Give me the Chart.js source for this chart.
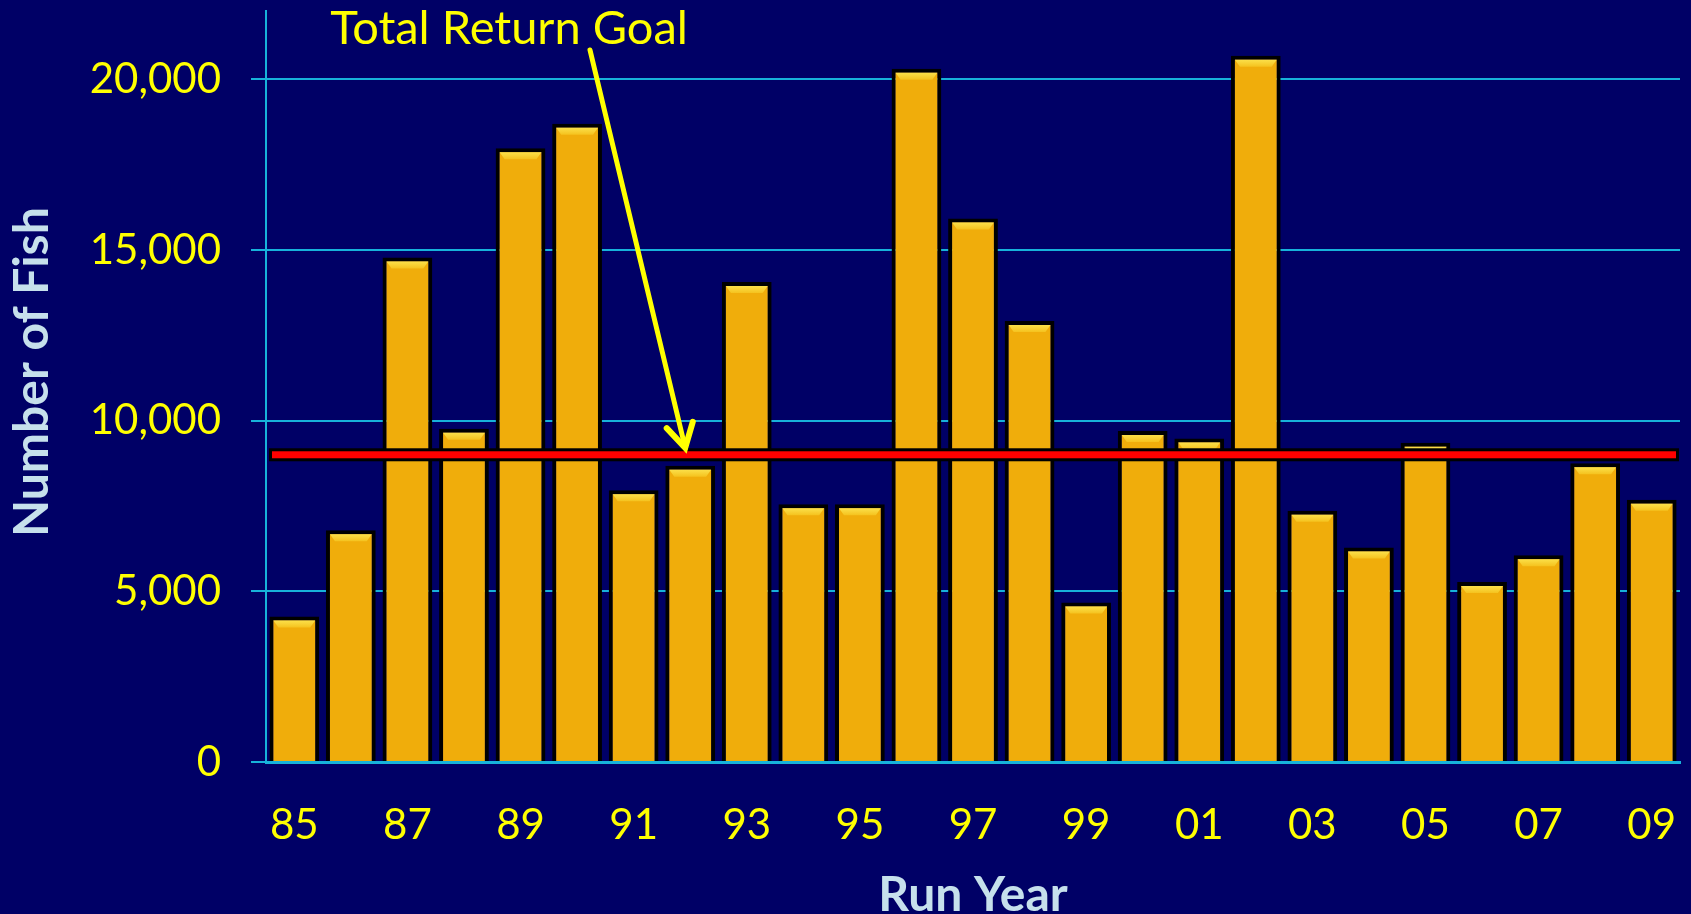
<!DOCTYPE html>
<html>
<head>
<meta charset="utf-8">
<script src="https://cdn.jsdelivr.net/npm/chart.js@4"></script>
<style>
  html, body { margin: 0; padding: 0; background: #000066; }
  #wrap { width: 1691px; height: 914px; }
</style>
</head>
<body>
<div id="wrap"><canvas id="fishChart" width="1691" height="914"></canvas></div>
<script>
// Run years (two-digit labels) and fish returns
const runYears = ['85', '86', '87', '88', '89', '90', '91', '92', '93', '94', '95', '96', '97',
                  '98', '99', '00', '01', '02', '03', '04', '05', '06', '07', '08', '09'];
const fishCounts = [4260, 6790, 14780, 9760, 17980, 18700, 7960, 8680, 14060, 7550, 7550, 20310, 15920,
                    12920, 4670, 9700, 9480, 20690, 7360, 6280, 9350, 5270, 6060, 8750, 7680];
const returnGoal = 9000;
const yTickValues = [0, 5000, 10000, 15000, 20000];
const yMax = 22000;

const navy = '#000066';
const gridCyan = '#17b2da';
const labelYellow = '#ffff00';
const titleBlue = '#c6e0ec';
const barGold = '#f0ad0b';

// dark background for the whole canvas
const background = {
  id: 'background',
  beforeDraw(chart) {
    const { ctx, width, height } = chart;
    ctx.save();
    ctx.fillStyle = navy;
    ctx.fillRect(0, 0, width, height);
    ctx.restore();
  }
};

// lighter bevel strip along the top of each bar
const barBevel = {
  id: 'barBevel',
  afterDatasetsDraw(chart) {
    const { ctx } = chart;
    const meta = chart.getDatasetMeta(0);
    ctx.save();
    meta.data.forEach(bar => {
      const b = 4;
      const left = bar.x - bar.width / 2 + b;
      const right = bar.x + bar.width / 2 - b;
      const top = bar.y + b;
      const h = 7;
      const grad = ctx.createLinearGradient(0, top, 0, top + h);
      grad.addColorStop(0, '#fbe04a');
      grad.addColorStop(1, '#f5c21e');
      ctx.fillStyle = grad;
      ctx.beginPath();
      ctx.moveTo(left, top);
      ctx.lineTo(right, top);
      ctx.lineTo(right - 5, top + h);
      ctx.lineTo(left + 5, top + h);
      ctx.closePath();
      ctx.fill();
    });
    ctx.restore();
  }
};

// goal line, arrow, annotation and axis titles
const goalMarker = {
  id: 'goalMarker',
  afterDraw(chart) {
    const { ctx, chartArea } = chart;
    const y = chart.scales.y.getPixelForValue(returnGoal);
    const x1 = chartArea.left + 3;
    const x2 = chartArea.right - 1;
    ctx.save();
    ctx.fillStyle = '#000000';
    ctx.fillRect(x1, y - 6.5, x2 - x1, 13);
    ctx.fillStyle = '#ff0000';
    ctx.fillRect(x1 + 3, y - 3.5, x2 - x1 - 6, 7);

    // arrow pointing at the goal line
    const tipX = chart.scales.x.getPixelForValue(7) - 5;
    const tipY = y - 7;
    const startX = 590, startY = 50;
    ctx.strokeStyle = labelYellow;
    ctx.lineWidth = 5;
    ctx.lineCap = 'round';
    ctx.beginPath();
    ctx.moveTo(startX, startY);
    ctx.lineTo(tipX, tipY);
    ctx.stroke();
    const ang = Math.atan2(tipY - startY, tipX - startX);
    const len = 27, spread = 0.52;
    ctx.lineWidth = 6;
    ctx.beginPath();
    ctx.moveTo(tipX - len * Math.cos(ang - spread), tipY - len * Math.sin(ang - spread));
    ctx.lineTo(tipX, tipY);
    ctx.lineTo(tipX - len * Math.cos(ang + spread), tipY - len * Math.sin(ang + spread));
    ctx.stroke();

    ctx.fillStyle = labelYellow;
    ctx.font = '47px Lato';
    ctx.textAlign = 'center';
    ctx.textBaseline = 'alphabetic';
    ctx.fillText('Total Return Goal', 509, 44);

    // x axis title
    ctx.fillStyle = titleBlue;
    ctx.font = 'bold 48px Lato';
    ctx.fillText('Run Year', (chartArea.left + chartArea.right) / 2, 911);

    // y axis title
    ctx.translate(33, 372);
    ctx.rotate(-Math.PI / 2);
    ctx.textBaseline = 'middle';
    ctx.fillText('Number of Fish', 0, 0);
    ctx.restore();
  }
};

function noPadding(scale) {
  scale.paddingTop = 0;
  scale.paddingBottom = 0;
  scale.paddingLeft = 0;
  scale.paddingRight = 0;
}

new Chart(document.getElementById('fishChart'), {
  type: 'bar',
  data: {
    labels: runYears,
    datasets: [{
      label: 'Number of Fish',
      data: fishCounts,
      backgroundColor: barGold,
      borderColor: '#000000',
      borderWidth: 4,
      barPercentage: 0.88,
      categoryPercentage: 1
    }]
  },
  options: {
    responsive: false,
    animation: false,
    devicePixelRatio: 1,
    layout: { padding: { top: 11, right: 11, left: 0, bottom: 0 } },
    plugins: {
      legend: { display: false },
      tooltip: { enabled: false }
    },
    scales: {
      x: {
        grid: { display: false },
        border: { display: true, color: gridCyan, width: 3 },
        ticks: {
          autoSkip: false,
          maxRotation: 0,
          color: labelYellow,
          font: { family: 'Lato', size: 42 },
          padding: 30,
          callback: (v, i) => (i % 2 === 0 ? runYears[i] : '')
        },
        afterFit: scale => { scale.height = 152; noPadding(scale); }
      },
      y: {
        min: 0,
        max: yMax,
        afterBuildTicks: axis => {
          axis.ticks = yTickValues.map(v => ({ value: v }));
        },
        grid: { color: gridCyan, lineWidth: 2, tickLength: 15 },
        border: { color: gridCyan, width: 2 },
        ticks: {
          color: labelYellow,
          font: { family: 'Lato', size: 42 },
          padding: 30,
          callback: v => v.toLocaleString('en-US')
        },
        afterFit: scale => { scale.width = 266; noPadding(scale); }
      }
    }
  },
  plugins: [background, barBevel, goalMarker]
});
</script>
</body>
</html>
